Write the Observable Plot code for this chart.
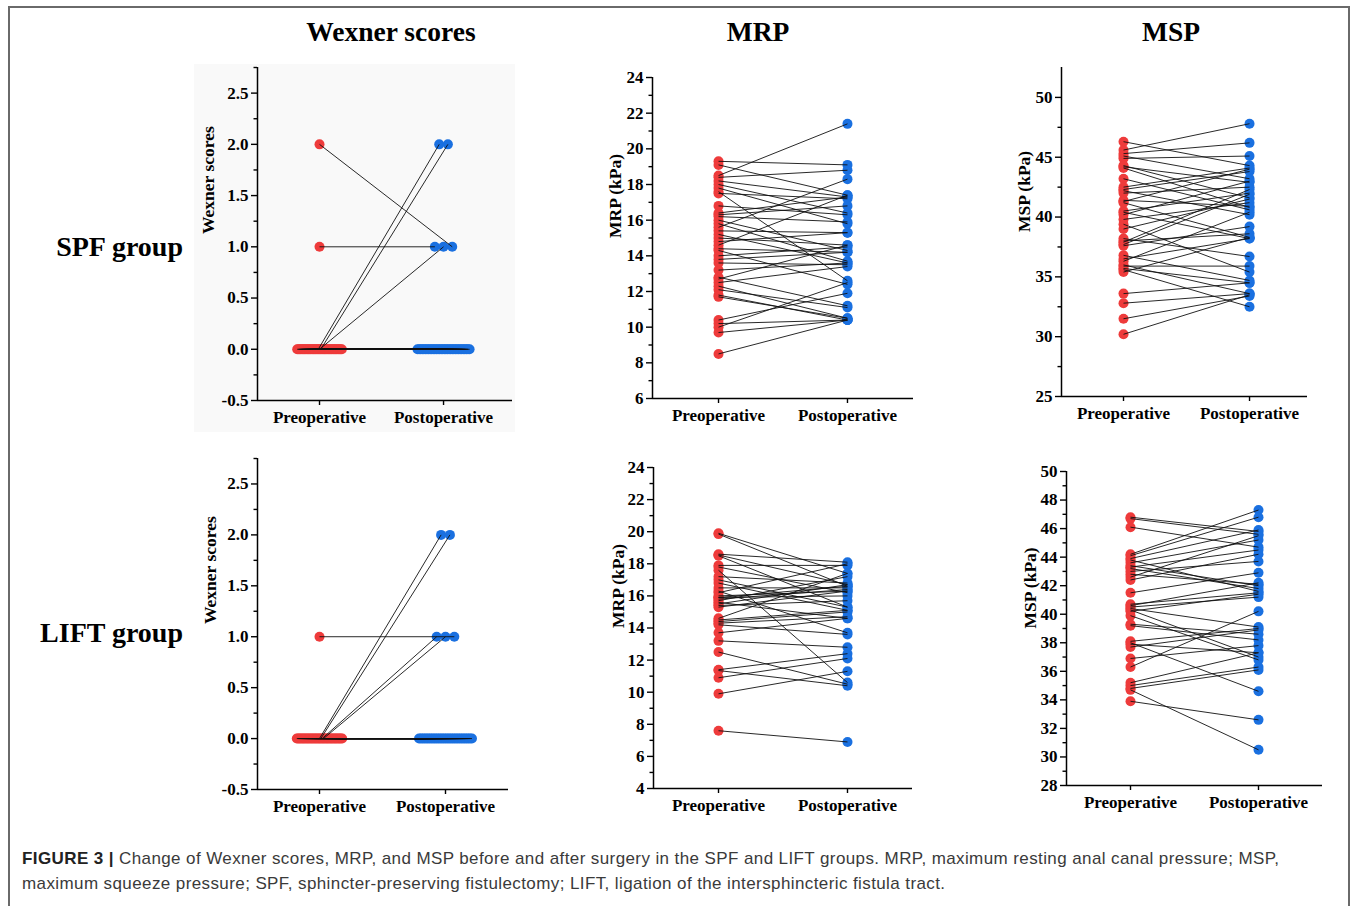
<!DOCTYPE html>
<html><head><meta charset="utf-8">
<script src="https://cdn.jsdelivr.net/npm/d3@7"></script>
<script src="https://cdn.jsdelivr.net/npm/@observablehq/plot@0.6"></script>
<style>
body{margin:0;background:#fff;}
#fig{position:relative;width:1357px;height:906px;overflow:hidden;font-family:"Liberation Serif","Times New Roman",serif;color:#000;}
.abs{position:absolute;}
.title{font-weight:bold;font-size:27.5px;line-height:1;transform:translate(-50%,-50%);white-space:nowrap;}
.row{font-weight:bold;font-size:28px;line-height:1;transform:translate(-100%,-50%);white-space:nowrap;}
#border{left:8px;top:6px;width:1342px;height:920px;border:2px solid #6a6a6a;box-sizing:border-box;}
#bg1{left:194px;top:64px;width:321px;height:368px;background:#f9f9f9;}
#caption{left:22px;top:846px;font-family:"Liberation Sans",Arial,sans-serif;font-size:17px;letter-spacing:0.4px;line-height:25px;color:#3a3a3a;white-space:nowrap;}
.plot{position:absolute;}
</style></head>
<body><div id="fig">
<div id="border" class="abs"></div>
<div id="bg1" class="abs"></div>
<div class="abs title" style="left:391px;top:32px">Wexner scores</div>
<div class="abs title" style="left:758px;top:32px">MRP</div>
<div class="abs title" style="left:1171px;top:32px">MSP</div>
<div class="abs row" style="left:183px;top:247px">SPF group</div>
<div class="abs row" style="left:183px;top:633px">LIFT group</div>
<div id="caption" class="abs"><b style="color:#222">FIGURE 3 |</b> Change of Wexner scores, MRP, and MSP before and after surgery in the SPF and LIFT groups. MRP, maximum resting anal canal pressure; MSP,<br>maximum squeeze pressure; SPF, sphincter-preserving fistulectomy; LIFT, ligation of the intersphincteric fistula tract.</div>
</div>
<script>
// ---------- data ----------
const phases = ["Preoperative", "Postoperative"];

// SPF group (n = 39)
const spfWexnerPre  = [1,0,0,0,0,0,0,0,0,0,0,0,0,0,0,0,0,0,0,0,0,0,0,0,0,0,0,0,0,0,0,0,0,0,0,0,0,0,2];
const spfWexnerPost = [1,0,0,0,0,0,0,0,0,0,0,0,0,0,0,0,0,0,2,1,2,0,0,0,0,0,0,0,0,0,0,0,0,0,0,0,0,0,1];
const spfMrpPre  = [19.3,19.1,18.5,18.4,18.2,18.0,17.8,17.6,17.5,16.8,16.4,16.3,16.2,16.0,15.8,15.6,15.4,15.2,15.0,14.8,14.6,14.4,14.3,14.0,13.8,13.6,13.2,12.8,12.7,12.5,12.3,12.1,11.8,11.7,10.4,10.2,10.0,9.7,8.5];
const spfMrpPost = [19.1,17.4,21.4,18.8,17.3,16.4,15.8,12.6,17.2,16.3,17.3,16.8,15.9,14.3,13.7,18.3,15.3,13.6,14.6,15.3,17.4,14.2,12.4,14.5,14.2,13.5,13.6,11.2,14.6,13.4,10.5,11.1,10.4,10.5,11.9,10.4,12.5,10.4,10.4];
const spfMspPre  = [46.3,45.6,45.3,45.1,44.9,44.3,44.2,44.1,43.2,42.5,42.3,42.2,42.0,41.4,41.3,41.2,40.5,40.4,40.2,39.8,39.4,39.0,38.2,38.0,37.9,37.7,37.6,36.8,36.5,36.3,36.0,35.9,35.7,35.6,35.4,33.6,32.8,31.5,30.2];
const spfMspPost = [44.3,47.8,46.2,43.2,45.1,41.6,42.9,40.8,40.6,44.1,43.8,40.2,42.5,40.9,44.0,38.3,42.0,38.2,43.0,41.2,35.4,41.5,36.7,38.6,42.3,41.9,39.2,34.7,38.2,40.4,33.6,35.9,34.5,32.5,38.3,34.5,33.6,33.4,33.5];

// LIFT group (n = 36)
const liftWexnerPre  = [0,0,0,0,0,0,0,0,0,0,0,0,0,0,0,0,0,0,0,0,0,0,0,0,0,0,0,0,0,0,0,0,0,0,0,1];
const liftWexnerPost = [0,0,0,0,0,0,0,0,0,0,0,0,0,0,0,0,0,2,2,1,1,0,0,0,0,0,0,0,0,0,0,0,0,0,0,1];
const liftMrpPre  = [19.9,19.85,18.6,18.55,18.5,17.9,17.8,17.6,17.2,17.0,16.8,16.5,16.3,16.2,16.0,15.9,15.9,15.8,15.7,15.6,15.5,15.4,15.3,14.6,14.5,14.4,14.3,14.2,13.7,13.2,12.5,11.4,11.35,10.9,9.9,7.6];
const liftMrpPost = [17.4,16.6,18.1,16.7,15.3,17.9,16.2,10.6,16.8,15.3,15.1,16.5,13.7,18.0,16.3,16.6,16.0,16.4,17.2,14.6,16.7,15.7,16.3,17.4,15.1,15.0,14.7,13.6,14.6,12.8,10.5,12.4,10.4,12.1,11.3,6.9];
const liftMspPre  = [46.8,46.7,46.1,44.2,44.1,43.9,43.8,43.6,43.4,43.3,43.2,43.0,42.8,42.6,42.4,41.5,40.7,40.6,40.5,40.4,40.3,40.2,39.9,39.3,39.2,38.1,38.0,37.9,37.7,36.9,36.3,35.2,35.0,34.8,34.7,33.9];
const liftMspPost = [45.8,45.6,44.7,47.3,46.8,45.9,41.6,45.2,42.0,44.5,41.8,43.7,42.1,45.5,44.2,42.9,41.5,42.2,41.2,39.1,37.0,41.4,36.8,38.6,38.2,39.0,34.6,37.3,38.9,37.8,40.2,37.3,36.3,36.1,30.5,32.6];

// axis ticks
const wexnerTicks = [-0.5, 0, 0.5, 1, 1.5, 2, 2.5];
const wexnerMinor = [-0.25, 0.25, 0.75, 1.25, 1.75, 2.25, 2.75];
const mrpSpfTicks = [6, 8, 10, 12, 14, 16, 18, 20, 22, 24];
const mrpSpfMinor = [7, 9, 11, 13, 15, 17, 19, 21, 23];
const mspSpfTicks = [25, 30, 35, 40, 45, 50];
const mspSpfMinor = [27.5, 32.5, 37.5, 42.5, 47.5];
const mrpLiftTicks = [4, 6, 8, 10, 12, 14, 16, 18, 20, 22, 24];
const mrpLiftMinor = [5, 7, 9, 11, 13, 15, 17, 19, 21, 23];
const mspLiftTicks = [28, 30, 32, 34, 36, 38, 40, 42, 44, 46, 48, 50];
const mspLiftMinor = [29, 31, 33, 35, 37, 39, 41, 43, 45, 47, 49];

// ---------- layout ----------
const RED = "#ee3b3b", BLUE = "#1a70e0";
const ML = 80, MR = 12, MT = 10, MB = 45;
const panels = [
  {left:257, right:512, top:67, bottom:400, x:[0.5,2.556], y:[-0.5,2.75], major:wexnerTicks, minor:wexnerMinor, fmt:d=>d.toFixed(1), label:"Wexner scores", dx:-49, pre:spfWexnerPre, post:spfWexnerPost, jitter:true},
  {left:652, right:913, top:77, bottom:398, x:[0.488,2.512], y:[6,24], major:mrpSpfTicks, minor:mrpSpfMinor, fmt:d=>String(d), label:"MRP (kPa)", dx:-37, pre:spfMrpPre, post:spfMrpPost},
  {left:1061, right:1307, top:67, bottom:396, x:[0.508,2.46], y:[25,52.5], major:mspSpfTicks, minor:mspSpfMinor, fmt:d=>String(d), label:"MSP (kPa)", dx:-37, pre:spfMspPre, post:spfMspPost},
  {left:257, right:508, top:458, bottom:789, x:[0.508,2.5], y:[-0.5,2.75], major:wexnerTicks, minor:wexnerMinor, fmt:d=>d.toFixed(1), label:"Wexner scores", dx:-47, pre:liftWexnerPre, post:liftWexnerPost, jitter:true},
  {left:653, right:912, top:467, bottom:788, x:[0.496,2.504], y:[4,24], major:mrpLiftTicks, minor:mrpLiftMinor, fmt:d=>String(d), label:"MRP (kPa)", dx:-35, pre:liftMrpPre, post:liftMrpPost},
  {left:1066, right:1322, top:471, bottom:785, x:[0.5,2.5], y:[28,50], major:mspLiftTicks, minor:mspLiftMinor, fmt:d=>String(d), label:"MSP (kPa)", dx:-36, pre:liftMspPre, post:liftMspPost}
];

// deterministic side-by-side spreading of tied points (no randomness)
function spread(values, step, width) {
  const off = values.map(() => 0);
  const groups = d3.group(d3.range(values.length), i => values[i]);
  for (const [, idx] of groups) {
    const n = idx.length;
    if (n < 2) continue;
    const s = Math.min(step, width / (n - 1));
    idx.forEach((i, k) => { off[i] = (k - (n - 1) / 2) * s; });
  }
  return off;
}

const fig = document.getElementById("fig");
for (const p of panels) {
  const offPre = p.jitter ? spread(p.pre, 0.07, 0.36) : p.pre.map(() => 0);
  const offPost = p.jitter ? spread(p.post, 0.07, 0.42) : p.post.map(() => 0);
  const pairs = p.pre.map((v, i) => ({x1: 1 + offPre[i], y1: v, x2: 2 + offPost[i], y2: p.post[i]}));
  const chart = Plot.plot({
    width: p.right - p.left + ML + MR,
    height: p.bottom - p.top + MT + MB,
    marginLeft: ML, marginRight: MR, marginTop: MT, marginBottom: MB,
    x: {domain: p.x},
    y: {domain: p.y},
    style: {background: "transparent", fontFamily: "'Liberation Serif','Times New Roman',serif", fontWeight: "bold", color: "#000", overflow: "visible"},
    marks: [
      Plot.dot(pairs, {x: "x1", y: "y1", r: 5, fill: RED, stroke: null}),
      Plot.dot(pairs, {x: "x2", y: "y2", r: 5, fill: BLUE, stroke: null}),
      Plot.link(pairs, {x1: "x1", y1: "y1", x2: "x2", y2: "y2", stroke: "#111", strokeWidth: 0.9}),
      Plot.ruleX([p.x[0]], {stroke: "#000", strokeWidth: 1.5}),
      Plot.ruleY([p.y[0]], {stroke: "#000", strokeWidth: 1.5}),
      Plot.axisY({ticks: p.major, tickSize: 6, tickPadding: 3, tickFormat: p.fmt, strokeWidth: 1.4, fontSize: 17, fontWeight: "bold", label: null}),
      Plot.axisY({ticks: p.minor, tickSize: 3.5, tickFormat: () => "", strokeWidth: 1.4, label: null}),
      Plot.axisX({ticks: [1, 2], tickSize: 5, tickPadding: 5, tickFormat: i => phases[i - 1], strokeWidth: 1.4, fontSize: 17, fontWeight: "bold", label: null}),
      Plot.text([p.label], {text: d => d, frameAnchor: "left", dx: p.dx, rotate: -90, fontSize: 17.5, fontWeight: "bold", fill: "#000"})
    ]
  });
  const wrap = document.createElement("div");
  wrap.className = "plot";
  wrap.style.left = (p.left - ML) + "px";
  wrap.style.top = (p.top - MT) + "px";
  wrap.appendChild(chart);
  fig.appendChild(wrap);
}
</script>
</body></html>
